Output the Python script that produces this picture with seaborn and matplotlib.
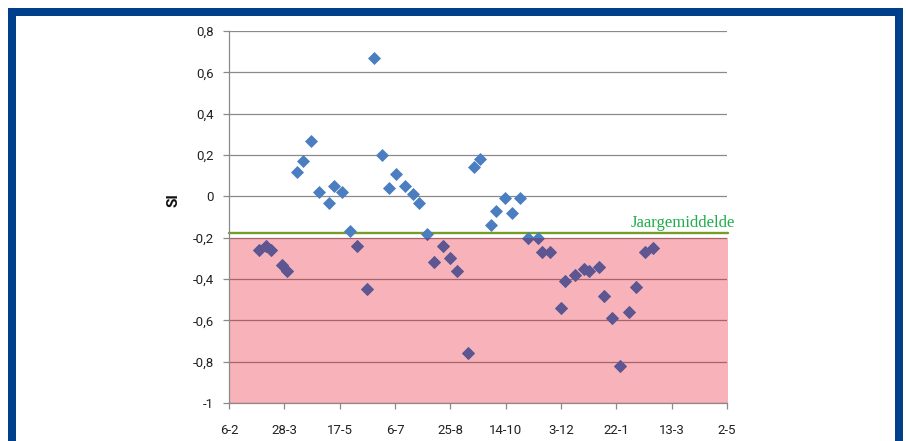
import matplotlib
matplotlib.use("Agg")
import matplotlib.pyplot as plt
from matplotlib.patches import Rectangle
import seaborn as sns
import pandas as pd

# ---- data ----
dates = ["2009-03-05", "2009-03-11", "2009-03-16", "2009-03-26", "2009-03-30",
         "2009-04-08", "2009-04-14", "2009-04-21", "2009-04-28", "2009-05-07",
         "2009-05-12", "2009-05-19", "2009-05-26", "2009-06-02", "2009-06-11",
         "2009-06-17", "2009-06-24", "2009-07-01", "2009-07-07", "2009-07-15",
         "2009-07-22", "2009-07-28", "2009-08-04", "2009-08-10", "2009-08-18",
         "2009-08-25", "2009-08-31", "2009-09-10", "2009-09-15", "2009-09-21",
         "2009-10-01", "2009-10-05", "2009-10-13", "2009-10-20", "2009-10-27",
         "2009-11-03", "2009-11-12", "2009-11-16", "2009-11-23", "2009-12-03",
         "2009-12-07", "2009-12-16", "2009-12-24", "2009-12-28", "2010-01-06",
         "2010-01-11", "2010-01-18", "2010-01-25", "2010-02-02", "2010-02-09",
         "2010-02-17", "2010-02-24"]
si = [-0.26, -0.24, -0.26, -0.33, -0.36,
      0.12, 0.17, 0.27, 0.02, -0.03,
      0.05, 0.02, -0.17, -0.24, -0.45,
      0.67, 0.20, 0.04, 0.11, 0.05,
      0.01, -0.03, -0.18, -0.32, -0.24,
      -0.30, -0.36, -0.76, 0.14, 0.18,
      -0.14, -0.07, -0.01, -0.08, -0.01,
      -0.20, -0.20, -0.27, -0.27, -0.54,
      -0.41, -0.38, -0.35, -0.36, -0.34,
      -0.48, -0.59, -0.82, -0.56, -0.44,
      -0.27, -0.25]

jaargemiddelde = -0.175
zone_low, zone_high = -1.0, -0.2

x_tick_dates = ["2009-02-06", "2009-03-28", "2009-05-17", "2009-07-06", "2009-08-25",
                "2009-10-14", "2009-12-03", "2010-01-22", "2010-03-13", "2010-05-02"]
x_tick_labels = ["6-2", "28-3", "17-5", "6-7", "25-8", "14-10", "3-12", "22-1", "13-3", "2-5"]
y_ticks = [-1.0, -0.8, -0.6, -0.4, -0.2, 0.0, 0.2, 0.4, 0.6, 0.8]
y_tick_labels = ["-1", "-0,8", "-0,6", "-0,4", "-0,2", "0", "0,2", "0,4", "0,6", "0,8"]

df = pd.DataFrame({"datum": pd.to_datetime(dates), "SI": si})

# ---- style ----
sns.set_style("white")
plt.rcParams["font.family"] = ["Roboto", "DejaVu Sans"]

W, H = 906, 441
fig = plt.figure(figsize=(W / 100, H / 100), dpi=100)
ax = fig.add_axes([229 / W, 1 - 403 / H, (727 - 229) / W, (403 - 31) / H])

grid_col = "#8a8a8a"
blue = "#4a7ec0"
purple = "#5f5591"

ax.set_axisbelow(True)
ax.yaxis.grid(True, color=grid_col, linewidth=0.9)
ax.xaxis.grid(False)

# pink zone (overlay)
span = ax.axhspan(zone_low, zone_high, xmin=0, xmax=1.003, facecolor="#e8182c",
                  alpha=0.33, edgecolor="none", zorder=1, clip_on=False)

# average line
ax.axhline(jaargemiddelde, xmin=0, xmax=1.003, color="#789c2a", linewidth=1.7,
           zorder=2, clip_on=False)

# points
sns.scatterplot(data=df, x="datum", y="SI", marker="D", s=44, color=blue,
                linewidth=0, ax=ax, zorder=3)
sns.scatterplot(data=df, x="datum", y="SI", marker="D", s=44, color=purple,
                linewidth=0, ax=ax, zorder=4)
ax.collections[-1].set_clip_path(span)

ax.set_xlim(pd.Timestamp(x_tick_dates[0]), pd.Timestamp(x_tick_dates[-1]))
ax.set_ylim(-1.0, 0.8)
ax.set_xticks(pd.to_datetime(x_tick_dates))
ax.set_xticklabels(x_tick_labels)
ax.set_yticks(y_ticks)
ax.set_yticklabels(y_tick_labels)
ax.tick_params(axis="both", which="major", labelsize=9.5, colors=grid_col,
               labelcolor="#222222", length=4, width=0.9, direction="out")
ax.tick_params(axis="y", pad=7)
ax.tick_params(axis="x", pad=11)
ax.xaxis.set_ticks_position("bottom")
ax.yaxis.set_ticks_position("left")

for s in ["top", "right"]:
    ax.spines[s].set_visible(False)
ax.spines["left"].set_color(grid_col)
ax.spines["left"].set_linewidth(0.9)
ax.spines["bottom"].set_color(grid_col)
ax.spines["bottom"].set_linewidth(0.9)
ax.spines["bottom"].set_zorder(0.6)

ax.set_xlabel("")
ax.set_ylabel("SI", fontsize=11, fontweight="bold", color="#111111", va="center")
ax.yaxis.set_label_coords((173.5 - 229) / 498, (403 - 200) / 372)

ax.text(pd.Timestamp("2010-02-04"), -0.148, "Jaargemiddelde", color="#1fae4b",
        fontsize=12, family=["Liberation Serif", "DejaVu Serif"], ha="left",
        va="baseline", zorder=5, clip_on=False)

# blue frame
fig.patches.append(Rectangle((12 / W, -0.1), (899 - 12) / W, (1 - 12 / H) + 0.1,
                             transform=fig.transFigure, fill=False,
                             edgecolor="#00408a", linewidth=8 * 72 / 100, zorder=10))

fig.savefig("out.png", dpi=100)
